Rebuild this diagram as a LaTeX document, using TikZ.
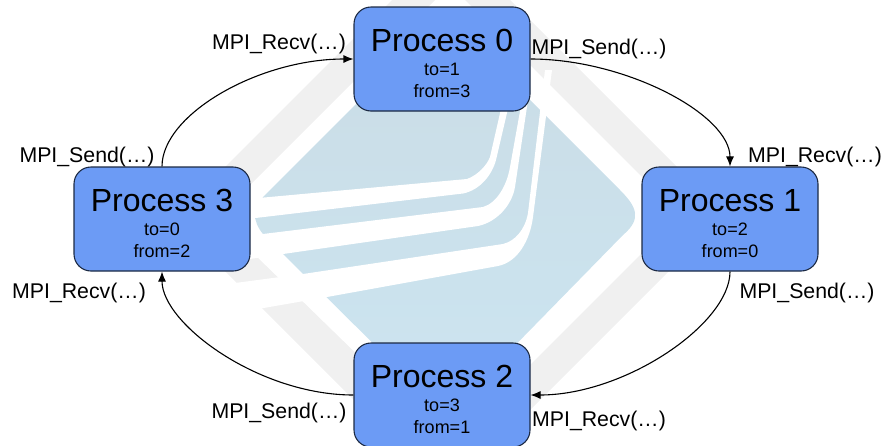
\documentclass[tikz,border=0pt]{standalone}
\usepackage{fontspec}
\setmainfont{Liberation Sans}
\usetikzlibrary{arrows.meta,calc}
\definecolor{procfill}{HTML}{6C9BF5}
\definecolor{procline}{HTML}{1C2A44}
\definecolor{wmgray}{HTML}{F0F0F0}
\definecolor{wmtop}{HTML}{CADCE5}
\definecolor{wmbot}{HTML}{CCE5F1}
\tikzset{
  x=1pt,y=-1pt,
  procbox/.style={draw=procline,line width=1.1pt,fill=procfill,rounded corners=17pt,
    minimum width=176pt,minimum height=104pt,inner sep=0pt,align=center,
    font=\fontsize{18}{22}\selectfont},
  calllabel/.style={inner sep=0pt,font=\fontsize{21.3}{25}\selectfont},
  msgarrow/.style={draw=black,line width=1.1pt,-{Latex[length=10pt,width=8pt]}},
  stripe/.style={fill=white,draw=none}
}
\newcommand{\proctitle}[1]{\rule{0pt}{31pt}{\fontsize{32}{36}\selectfont Process #1}}
\begin{document}
\begin{tikzpicture}
\useasboundingbox (0,0) rectangle (885,445);
\begin{scope}
\clip (0,0) rectangle (885,445);
% watermark: grey ring
\fill[wmgray,even odd rule] (173,219) -- (451,-59) -- (725,215) -- (447,493) -- cycle
  (217,218) -- (450,-15) -- (680,215) -- (450,445) -- cycle;
% watermark: blue body
\shade[top color=wmtop,bottom color=wmbot]
  (263,197) -- (445,15) -- (620,190) .. controls (637,207) and (642,219) .. (623,235)
  -- (446,416) -- (263,234) .. controls (258,228) and (255,222) .. (255,214) -- cycle;
% watermark: white stripes
\fill[stripe] (230,201) -- (264,197.5) -- (467,179)
  .. controls (478,175) and (487,165) .. (490,157) -- (503,100) -- (510,100) -- (496,160)
  .. controls (492,175) and (480,190) .. (463,193.5) -- (230,221) -- cycle;
\fill[stripe] (230,238) -- (263,234) -- (483,207)
  .. controls (497,203) and (507,185) .. (510,167) -- (522,100) -- (528,100) -- (515,187)
  .. controls (512,205) and (497,222) .. (478,226) -- (283,254) -- (230,262) -- cycle;
\fill[stripe] (220,285) -- (303,274) -- (503,244)
  .. controls (515,241) and (525,230) .. (528,213) -- (545,70) -- (552,70) -- (533,217)
  .. controls (530,240) and (518,262) .. (498,266) -- (327,297) -- (255,309.5) -- cycle;
\end{scope}
% processes
\node[procbox] (P0) at (442,59) {\proctitle{0}\\[2pt]to=1\\from=3};
\node[procbox] (P1) at (730,219) {\proctitle{1}\\[2pt]to=2\\from=0};
\node[procbox] (P2) at (442,395) {\proctitle{2}\\[2pt]to=3\\from=1};
\node[procbox] (P3) at (162,219) {\proctitle{3}\\[2pt]to=0\\from=2};
% connectors
\draw[msgarrow] (P0.east) .. controls +(95,0) and ($(P1.north)+(0,-52)$) .. (P1.north);
\draw[msgarrow] (P1.south) .. controls +(0,52) and ($(P2.east)+(95,0)$) .. (P2.east);
\draw[msgarrow] (P2.west) .. controls +(-95,0) and ($(P3.south)+(0,52)$) .. (P3.south);
\draw[msgarrow] (P3.north) .. controls +(0,-52) and ($(P0.west)+(-95,0)$) .. (P0.west);
% labels
\node[calllabel] (l0r) at (279,44) {MPI\_Recv(…)};
\node[calllabel] (l0s) at (599,49) {MPI\_Send(…)};
\node[calllabel] (l1r) at (815,157) {MPI\_Recv(…)};
\node[calllabel] (l1s) at (807,293) {MPI\_Send(…)};
\node[calllabel] (l2r) at (599,421) {MPI\_Recv(…)};
\node[calllabel] (l2s) at (279,413) {MPI\_Send(…)};
\node[calllabel] (l3s) at (87,157) {MPI\_Send(…)};
\node[calllabel] (l3r) at (79,293) {MPI\_Recv(…)};
\end{tikzpicture}
\end{document}
